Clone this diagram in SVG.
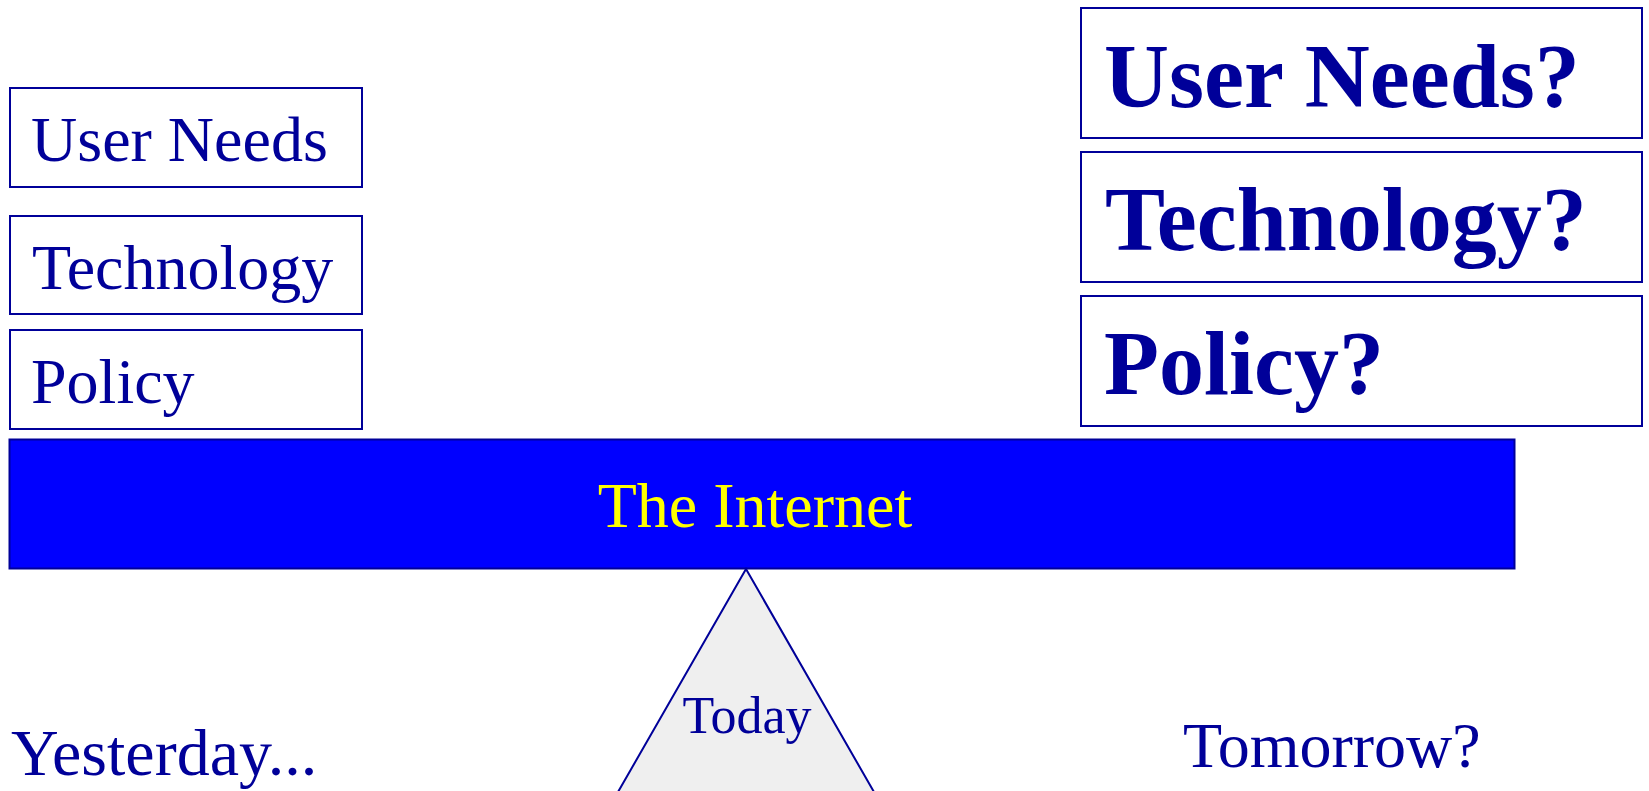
<svg xmlns="http://www.w3.org/2000/svg" width="1649" height="791" viewBox="0 0 1649 791">
<style>
.box{fill:#ffffff;stroke:#000099;stroke-width:2}
.t{font-family:"Liberation Serif","Times New Roman",serif;fill:#000099}
.r{font-size:64px}
.b{font-size:90px;font-weight:bold}
</style>
<rect width="1649" height="791" fill="#ffffff"/>
<g id="left-user-needs"><rect class="box" x="10" y="88" width="352" height="99"/><text class="t r" x="31" y="161">User Needs</text></g>
<g id="left-technology"><rect class="box" x="10" y="216" width="352" height="98"/><text class="t r" x="32" y="289">Technology</text></g>
<g id="left-policy"><rect class="box" x="10" y="330" width="352" height="99"/><text class="t r" x="31" y="403">Policy</text></g>
<g id="right-user-needs"><rect class="box" x="1081" y="8" width="561" height="130"/><text class="t b" x="1104" y="107">User Needs?</text></g>
<g id="right-technology"><rect class="box" x="1081" y="152" width="561" height="130"/><text class="t b" x="1105" y="250">Technology?</text></g>
<g id="right-policy"><rect class="box" x="1081" y="296" width="561" height="130"/><text class="t b" x="1104" y="394">Policy?</text></g>
<g id="internet"><rect x="9.5" y="439.5" width="1505" height="129" fill="#0000ff" stroke="#000099" stroke-width="2"/><text class="t r" x="755" y="527" text-anchor="middle" style="fill:#ffff00">The Internet</text></g>
<g id="today"><polygon points="746,569 618,792 874,792" fill="#efefef" stroke="#000099" stroke-width="2"/><text class="t" x="747" y="733" text-anchor="middle" font-size="52">Today</text></g>
<g id="yesterday"><text class="t" x="11" y="775" font-size="66">Yesterday...</text></g>
<g id="tomorrow"><text class="t" x="1183" y="767" font-size="64">Tomorrow?</text></g>
<g id="connectors"></g>
</svg>
